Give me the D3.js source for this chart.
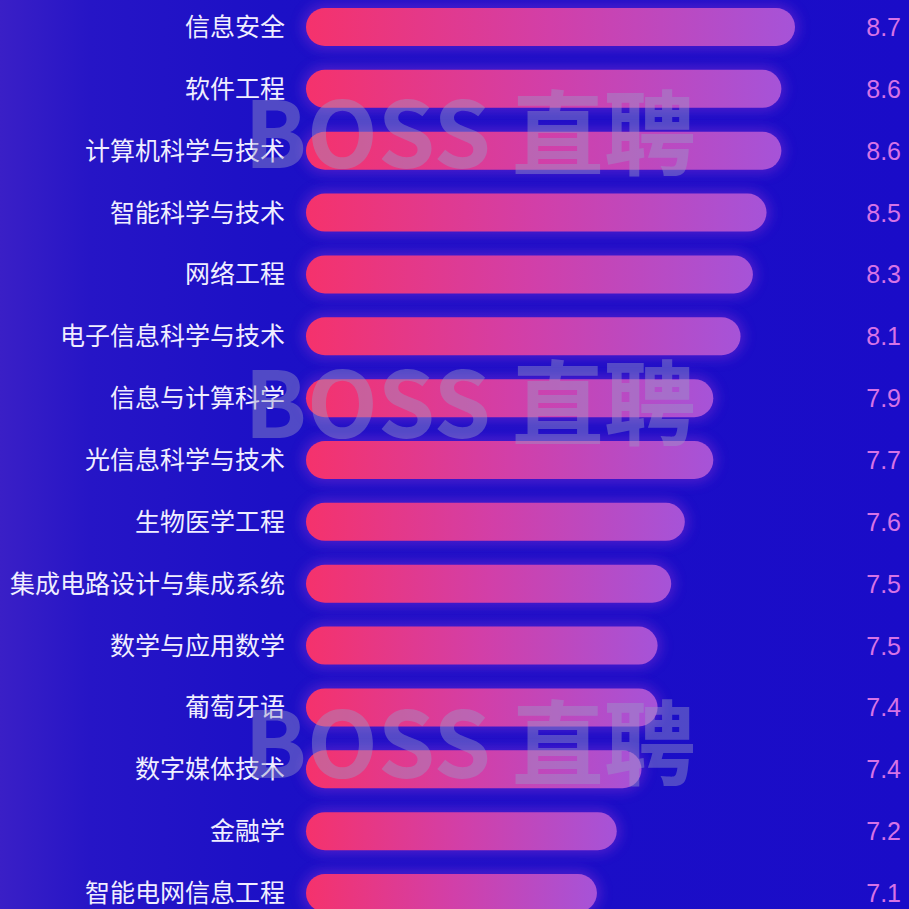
<!DOCTYPE html>
<html>
<head>
<meta charset="utf-8">
<script src="https://cdn.jsdelivr.net/npm/d3@7"></script>
<style>
  html, body { margin: 0; padding: 0; background: #1a0dc8; }
  svg { display: block; }
</style>
</head>
<body>
<div id="chart"></div>
<script>
// majors and their printed scores, top to bottom
const majors = ["信息安全", "软件工程", "计算机科学与技术", "智能科学与技术", "网络工程",
  "电子信息科学与技术", "信息与计算科学", "光信息科学与技术", "生物医学工程",
  "集成电路设计与集成系统", "数学与应用数学", "葡萄牙语", "数字媒体技术", "金融学", "智能电网信息工程"];
const scores = [8.7, 8.6, 8.6, 8.5, 8.3, 8.1, 7.9, 7.7, 7.6, 7.5, 7.5, 7.4, 7.4, 7.2, 7.1];
// the poster's bars are not exactly to scale with the printed scores,
// these are the values
const barValues = [8.70, 8.59, 8.59, 8.47, 8.36, 8.26, 8.04, 8.04, 7.81, 7.70, 7.59, 7.59, 7.46, 7.26, 7.10];
const watermarkRows = [135, 405, 745];

const width = 909, height = 909;
const barLeft = 306, barH = 38;

const svg = d3.select("#chart").append("svg")
  .attr("width", width)
  .attr("height", height);

const defs = svg.append("defs");

const bg = defs.append("linearGradient").attr("id", "bg")
  .attr("x1", "0").attr("x2", "1").attr("y1", "0").attr("y2", "0");
bg.append("stop").attr("offset", "0").attr("stop-color", "#3a1fc6");
bg.append("stop").attr("offset", "0.1").attr("stop-color", "#2615c6");
bg.append("stop").attr("offset", "0.3").attr("stop-color", "#1c10c6");
bg.append("stop").attr("offset", "1").attr("stop-color", "#1a0cc8");

const barGrad = defs.append("linearGradient").attr("id", "barGrad")
  .attr("gradientUnits", "objectBoundingBox")
  .attr("x1", "0").attr("x2", "1").attr("y1", "0").attr("y2", "0");
barGrad.append("stop").attr("offset", "0").attr("stop-color", "#f5326c");
barGrad.append("stop").attr("offset", "0.5").attr("stop-color", "#d23fa8");
barGrad.append("stop").attr("offset", "1").attr("stop-color", "#a653d8");

const glow = defs.append("filter").attr("id", "glow")
  .attr("x", "-10%").attr("y", "-60%").attr("width", "120%").attr("height", "220%");
glow.append("feGaussianBlur").attr("stdDeviation", 6);

svg.append("rect").attr("width", width).attr("height", height).attr("fill", "url(#bg)");

const x = d3.scaleLinear().domain([4.75, 8.7]).range([barLeft, 795]);
const y = d3.scalePoint().domain(majors).range([27, 893]);

const rows = svg.selectAll("g.row")
  .data(majors.map((m, i) => ({ major: m, score: scores[i], bar: barValues[i] })))
  .join("g")
    .attr("class", "row")
    .attr("transform", d => `translate(0,${y(d.major)})`);

// soft purple halo behind bars
rows.append("rect")
  .attr("x", barLeft - 4)
  .attr("y", -barH / 2 - 4)
  .attr("width", d => x(d.bar) - barLeft + 8)
  .attr("height", barH + 8)
  .attr("rx", barH / 2 + 4)
  .attr("fill", "#7a2ad0")
  .attr("opacity", 0.5)
  .attr("filter", "url(#glow)");

rows.append("rect")
  .attr("x", barLeft)
  .attr("y", -barH / 2)
  .attr("width", d => x(d.bar) - barLeft)
  .attr("height", barH)
  .attr("rx", barH / 2)
  .attr("fill", "url(#barGrad)");

rows.append("text")
  .attr("x", 285)
  .attr("dy", "0.36em")
  .attr("text-anchor", "end")
  .attr("font-family", "'Noto Sans CJK SC', sans-serif")
  .attr("font-size", 25)
  .attr("fill", "#f0eeff")
  .text(d => d.major);

rows.append("text")
  .attr("x", 901)
  .attr("dy", "0.36em")
  .attr("text-anchor", "end")
  .attr("font-family", "'Liberation Sans', Arial, sans-serif")
  .attr("font-size", 25)
  .attr("fill", "#d673e6")
  .text(d => d.score.toFixed(1));

// BOSS直聘 watermarks
svg.selectAll("text.wm")
  .data(watermarkRows)
  .join("text")
    .attr("class", "wm")
    .attr("x", 470)
    .attr("y", d => d)
    .attr("dy", "0.36em")
    .attr("text-anchor", "middle")
    .attr("font-family", "'Noto Sans CJK SC', sans-serif")
    .attr("font-weight", "bold")
    .attr("font-size", 92)
    .attr("fill", "#9a9ac8")
    .attr("opacity", 0.42)
    .text("BOSS 直聘");
</script>
</body>
</html>
